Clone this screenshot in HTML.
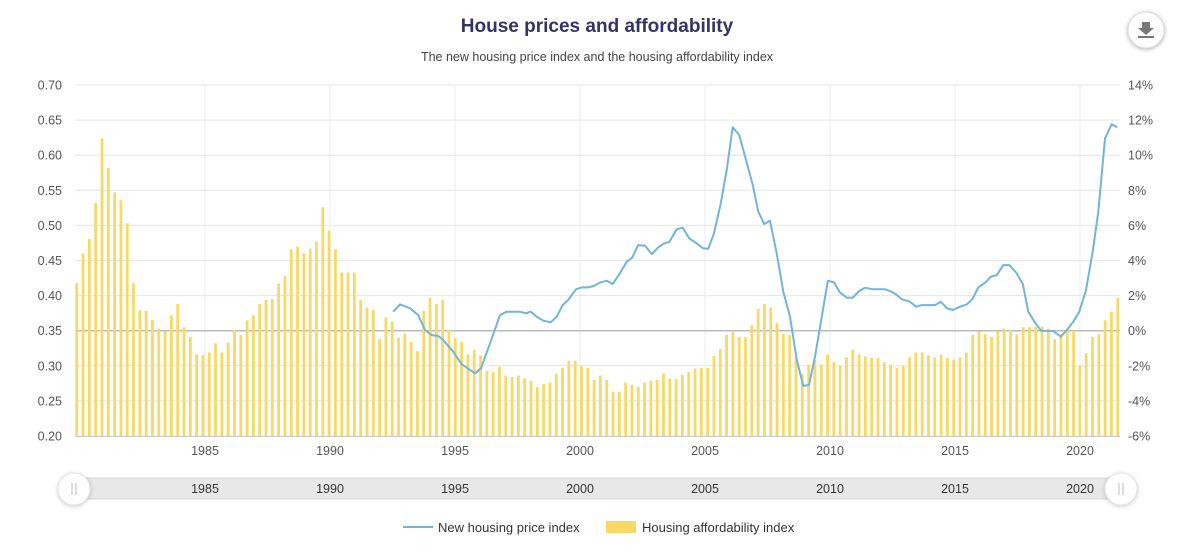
<!DOCTYPE html>
<html><head><meta charset="utf-8"><style>
body{margin:0;background:#fff;}
svg{display:block;font-family:"Liberation Sans",sans-serif;}
</style></head><body>
<svg id="c" width="1200" height="556" viewBox="0 0 1200 556">
<text x="597" y="32" text-anchor="middle" font-size="19" font-weight="bold" fill="#333366">House prices and affordability</text>
<text x="597" y="61" text-anchor="middle" font-size="12.5" fill="#444">The new housing price index and the housing affordability index</text>
<g>
<circle cx="1146" cy="30" r="18" fill="#fff" stroke="#ddd" style="filter:drop-shadow(0 1px 2px rgba(0,0,0,.3))"/>
<path d="M1142 22h8v6h4l-8 7-8-7h4z" fill="#777"/><rect x="1138" y="36" width="16" height="2" fill="#777"/>
</g>
<g id="grid"></g><g id="bars"></g><g id="line"></g><g id="axes"></g>
<g>
<rect x="75" y="478" width="1045" height="21" fill="#e8e8e8" stroke="#d8d8d8"/>
<g id="navlabels"></g>
<g><circle cx="74" cy="489" r="16" fill="#fff" stroke="#e4e4e4" style="filter:drop-shadow(0 1px 2px rgba(0,0,0,.2))"/><path d="M72 483v12M76 483v12" stroke="#bbb"/></g>
<g><circle cx="1121" cy="489" r="16" fill="#fff" stroke="#e4e4e4" style="filter:drop-shadow(0 1px 2px rgba(0,0,0,.2))"/><path d="M1119 483v12M1123 483v12" stroke="#bbb"/></g>
</g>
<g>
<line x1="403" y1="527" x2="433" y2="527" stroke="#72b4da" stroke-width="2"/>
<text x="438" y="532" font-size="13" fill="#333">New housing price index</text></g>
<g>
<rect x="606" y="521" width="30" height="12" fill="#f8d967"/>
<text x="642" y="532" font-size="13" fill="#333">Housing affordability index</text></g>
</svg>
<script>
const barValues=[0.418,0.460,0.481,0.532,0.624,0.582,0.547,0.536,0.503,0.418,0.379,0.378,0.365,0.353,0.349,0.372,0.388,0.355,0.341,0.316,0.315,0.319,0.332,0.319,0.333,0.351,0.344,0.365,0.372,0.388,0.394,0.395,0.417,0.428,0.466,0.470,0.460,0.467,0.477,0.526,0.493,0.466,0.433,0.433,0.433,0.394,0.383,0.380,0.338,0.369,0.363,0.340,0.346,
0.334,0.321,0.378,0.397,0.388,0.394,0.351,0.339,0.334,0.316,0.323,0.315,0.293,0.291,0.299,0.286,0.284,0.286,0.282,0.279,0.270,0.274,0.276,0.289,0.297,0.307,0.307,0.299,0.297,0.280,0.286,0.280,0.263,0.263,0.276,0.273,0.270,0.276,0.279,0.280,0.289,0.282,0.281,0.287,0.291,0.296,0.297,0.297,0.314,0.324,0.344,0.348,0.341,
0.341,0.358,0.381,0.388,0.383,0.361,0.345,0.344,0.312,0.289,0.302,0.308,0.302,0.316,0.305,0.300,0.312,0.323,0.316,0.313,0.311,0.311,0.305,0.302,0.297,0.300,0.312,0.319,0.319,0.315,0.312,0.316,0.311,0.309,0.312,0.319,0.344,0.349,0.345,0.341,0.349,0.353,0.351,0.345,0.355,0.355,0.355,0.356,0.353,0.338,0.345,0.350,0.350,0.300,0.318,0.341,0.345,0.365,0.377,0.397];
const BAR_T0=1979.87, BAR_T1=2021.51;
const lineYears=[1992.53,1992.80,1993.20,1993.53,1993.80,1994.07,1994.33,1994.53,1994.93,1995.27,1995.80,1996.04,1996.40,1996.80,1997.07,1997.60,1997.84,1998.03,1998.27,1998.53,1998.83,1999.07,1999.31,1999.53,1999.84,2000.07,2000.33,2000.56,2000.83,2001.07,2001.31,2001.57,2001.87,2002.09,2002.33,2002.60,2002.87,2003.13,2003.37,2003.57,2003.87,2004.11,2004.37,2004.60,2004.91,2005.13,2005.36,2005.63,2005.87,2006.11,2006.37,2006.64,2006.91,2007.13,2007.37,2007.60,2007.87,2008.13,2008.40,2008.67,2008.93,2009.16,2009.40,2009.67,2009.91,2010.16,2010.40,2010.67,2010.91,2011.17,2011.40,2011.71,2012.20,2012.40,2012.64,2012.87,2013.20,2013.44,2013.67,2014.20,2014.43,2014.67,2014.91,2015.20,2015.47,2015.69,2015.93,2016.20,2016.44,2016.67,2016.93,2017.17,2017.44,2017.71,2017.93,2018.20,2018.44,2018.93,2019.23,2019.47,2019.73,2019.97,2020.24,2020.51,2020.73,2021.00,2021.27,2021.49];
const lineValues=[1.08,1.50,1.28,0.89,0.04,-0.25,-0.30,-0.53,-1.20,-1.91,-2.43,-2.14,-0.72,0.89,1.08,1.08,0.99,1.08,0.80,0.57,0.48,0.80,1.46,1.75,2.36,2.47,2.47,2.55,2.76,2.85,2.66,3.21,3.93,4.16,4.88,4.84,4.37,4.75,4.98,5.05,5.78,5.87,5.26,5.04,4.70,4.67,5.55,7.26,9.16,11.59,11.15,9.73,8.30,6.78,6.08,6.27,4.41,2.22,0.80,-1.67,-3.15,-3.09,-1.48,0.80,2.85,2.76,2.17,1.88,1.88,2.26,2.45,2.36,2.36,2.26,2.07,1.79,1.65,1.37,1.46,1.46,1.65,1.28,1.18,1.37,1.50,1.79,2.47,2.73,3.08,3.17,3.74,3.74,3.33,2.66,1.08,0.46,0.00,-0.02,-0.34,0.04,0.51,1.08,2.32,4.50,6.78,10.96,11.76,11.59];
const leftTicks=["0.20","0.25","0.30","0.35","0.40","0.45","0.50","0.55","0.60","0.65","0.70"];
const rightTicks=["-6%","-4%","-2%","0%","2%","4%","6%","8%","10%","12%","14%"];
const xTicks=[1985,1990,1995,2000,2005,2010,2015,2020];
const NS="http://www.w3.org/2000/svg";
const X0=75,X1=1118,Y0=436,Y1=85;
const xs=t=>205+(t-1985)*25;
const yl=v=>Y0-(v-0.2)/0.5*(Y0-Y1);
const yr=p=>Y0-(p+6)/20*(Y0-Y1);
function mk(tag,attrs,parent,txt){const e=document.createElementNS(NS,tag);for(const k in attrs)e.setAttribute(k,attrs[k]);if(txt!==undefined)e.textContent=txt;parent.appendChild(e);return e;}
const grid=document.getElementById('grid'),axes=document.getElementById('axes'),bars=document.getElementById('bars'),lineG=document.getElementById('line'),nav=document.getElementById('navlabels');
xTicks.forEach(t=>{const l=mk('line',{x1:xs(t),x2:xs(t),y1:Y1,y2:Y0,stroke:'#ececec'},grid);


const tx=mk('text',{x:xs(t),y:455,'text-anchor':'middle','font-size':12.5,fill:'#555'},axes,t);


const nt=mk('text',{x:xs(t),y:493,'text-anchor':'middle','font-size':12.5,fill:'#333'},nav,t);

});
leftTicks.forEach((s,i)=>{const y=yl(parseFloat(s));
const zero=rightTicks[i]==='0%';
const l=mk('line',{x1:X0,x2:1120,y1:y,y2:y,stroke:zero?'#bbb':'#e6e6e6','stroke-width':zero?1.5:1},grid);


const a=mk('text',{x:62,y:y+4.5,'text-anchor':'end','font-size':12.5,fill:'#555'},axes,s);


const b=mk('text',{x:1128,y:y+4.5,'font-size':12.5,fill:'#555'},axes,rightTicks[i]);

});
const step=(BAR_T1-BAR_T0)/(barValues.length-1);
barValues.forEach((v,i)=>{const x=xs(BAR_T0+i*step);const y=yl(v);
const r=mk('rect',{x:x-1.4,y:y,width:2.8,height:Y0-y,fill:'#f8d967'},bars);

});
const d=lineYears.map((t,i)=>(i?'L':'M')+xs(t).toFixed(1)+' '+yr(lineValues[i]).toFixed(1)).join(' ');
const p=mk('path',{d:d,fill:'none',stroke:'#72b4da','stroke-width':2,'stroke-linejoin':'round'},lineG);


const ax=mk('line',{x1:X0,x2:1120,y1:Y0+0.5,y2:Y0+0.5,stroke:'#ccc'},axes);


</script>
</body></html>
